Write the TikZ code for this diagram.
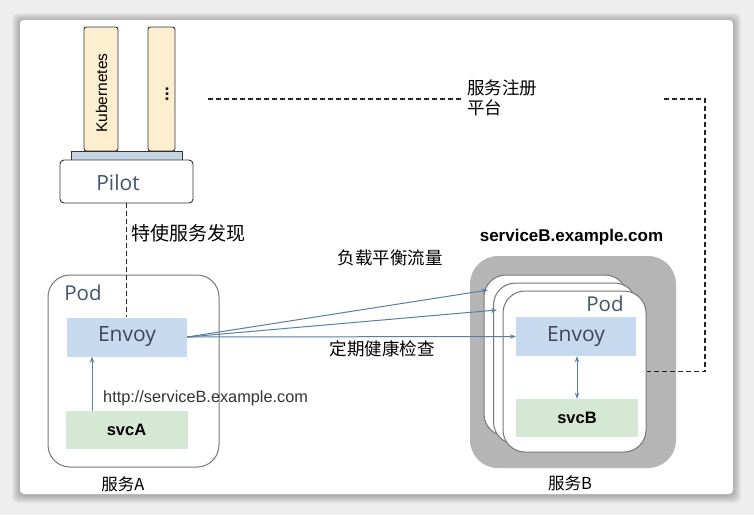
\documentclass[tikz,border=0pt]{standalone}
\usepackage{fontspec}
\setmainfont{Liberation Sans}
\newfontfamily\cjk{Noto Sans CJK SC}
\newfontfamily\osans{Open Sans}
\usetikzlibrary{arrows.meta}
\definecolor{bggray}{HTML}{EEEEEE}
\definecolor{kubefill}{HTML}{FCEECF}
\definecolor{platefill}{HTML}{C7D4E2}
\definecolor{envfill}{HTML}{C6D9EE}
\definecolor{svcfill}{HTML}{D5E8D4}
\definecolor{slate}{HTML}{44546A}
\definecolor{envtxt}{HTML}{404656}
\definecolor{arrcol}{HTML}{5A7FA6}
\definecolor{podgray}{HTML}{777777}
\definecolor{svcgray}{HTML}{B5B5B5}
\definecolor{txtgray}{HTML}{333333}
\tikzset{
  darkline/.style={draw=black!80, line width=0.9pt},
  kbar/.style={darkline, fill=kubefill, rounded corners=2.5pt, minimum height=124pt, inner sep=0pt},
  plate/.style={darkline, fill=platefill, minimum width=111pt, minimum height=9pt, inner sep=0pt},
  pilotbox/.style={darkline, fill=white, rounded corners=4pt, minimum width=133pt, minimum height=43pt, inner sep=0pt},
  podbox/.style={draw=podgray, line width=1pt, fill=white, rounded corners=22pt, minimum width=143pt, minimum height=161pt, inner sep=0pt},
  envbox/.style={fill=envfill, minimum width=120pt, minimum height=39pt, inner sep=0pt, text=envtxt, font=\osans\fontsize{21}{24}\selectfont},
  svcbox/.style={fill=svcfill, minimum width=122pt, minimum height=38pt, inner sep=0pt, font=\bfseries\fontsize{16.5}{20}\selectfont},
  podlabel/.style={text=slate, font=\osans\fontsize{20.5}{24}\selectfont, inner sep=0pt},
  cjklabel/.style={font=\cjk\fontsize{17.5}{21}\selectfont, inner sep=0pt},
  arr/.style={draw=arrcol, line width=1pt, -{Stealth[length=6pt,width=4.5pt]}},
  darr/.style={draw=arrcol, line width=1pt, {Stealth[length=6pt,width=4.5pt]}-{Stealth[length=6pt,width=4.5pt]}},
  dline/.style={draw=black!85, line width=1.1pt, dash pattern=on 5pt off 3pt},
}
\begin{document}
\begin{tikzpicture}[x=1pt,y=-1pt]
\useasboundingbox (0,0) rectangle (754,515);
% background and card
\fill[bggray] (0,0) rectangle (754,515);
\foreach \i in {1,...,8} {
  \fill[black, opacity=0.035, rounded corners=6pt] (20-\i,20-\i+1) rectangle (733+\i,494+\i+1);
}
\fill[white, rounded corners=4pt] (20,20) rectangle (733,494);

% Pilot column
\node[kbar, minimum width=34pt] (kube) at (101,89) {};
\node[rotate=90, font=\fontsize{15.5}{18}\selectfont, inner sep=0pt] (kubetxt) at (101.5,93) {Kubernetes};
\node[kbar, minimum width=27pt] (other) at (161.5,89) {};
\node[rotate=90, font=\bfseries\fontsize{17}{18}\selectfont, inner sep=0pt] (dots) at (167,94) {...};
\node[plate] (plate) at (126.5,155.5) {};
\node[pilotbox] (pilot) at (126.5,181.5) {};
\node[podlabel, font=\osans\fontsize{21}{24}\selectfont] (pilottxt) at (118,183) {Pilot};

% service A
\node[podbox, minimum width=171pt, minimum height=192pt] (podA) at (133.5,371) {};
\node[podlabel] (podAtxt) at (83,293) {Pod};
\node[envbox] (envA) at (127,337) {Envoy};
\node[svcbox] (svcA) at (126.5,430) {svcA};
\node[font=\fontsize{16.3}{19}\selectfont, text=txtgray, inner sep=0pt, anchor=west] (http) at (103,398) {http://serviceB.example.com};
\node[cjklabel, font=\cjk\fontsize{16.5}{20}\selectfont] (svcAname) at (123,484) {服务A};
\draw[arr] ([xshift=-34.5pt]svcA.north) -- ([xshift=-35pt]envA.south);

% service B
\node[font=\bfseries\fontsize{17}{20}\selectfont, inner sep=0pt] (sbname) at (571.5,237) {serviceB.example.com};
\node[fill=svcgray, rounded corners=28pt, minimum width=206pt, minimum height=212pt, inner sep=0pt] (svcBgroup) at (573,362) {};
\node[podbox] (podB1) at (555.5,355.5) {};
\node[podbox] (podB2) at (565,363.5) {};
\node[podbox] (podB3) at (574.5,371.5) {};
\node[podlabel] (podBtxt) at (605,304) {Pod};
\node[envbox] (envB) at (576,336.5) {Envoy};
\node[svcbox] (svcB) at (577,418) {svcB};
\draw[darr] ([xshift=1pt]envB.south) -- (svcB.north);
\node[cjklabel, font=\cjk\fontsize{16.5}{20}\selectfont] (svcBname) at (570,483) {服务B};

% traffic arrows
\coordinate (t1) at (488,290);
\coordinate (t2) at (497,310);
\draw[arr] (envA.east) -- (t1);
\draw[arr] (envA.east) -- (t2);
\draw[arr] (envA.east) -- (envB.west);
\node[cjklabel] (lb) at (390,258) {负载平衡流量};
\node[cjklabel] (hc) at (382,349) {定期健康检查};

% discovery
\draw[dline] (pilot.south) -- (pilot.south |- envA.north);
\node[cjklabel, font=\cjk\fontsize{19}{22}\selectfont, anchor=west] (disc) at (131,233) {特使服务发现};

% registry line
\coordinate (regstart) at (208,99);
\coordinate (regcorner1) at (705,99);
\coordinate (regcorner2) at (705,371.5);
\draw[dline] (regstart) -- (regcorner1) -- (regcorner2) -- (podB3.east);
\node[cjklabel, fill=white, anchor=west, align=left, text width=192pt, inner xsep=4pt, inner ysep=3pt, font=\cjk\fontsize{17.5}{20.5}\selectfont] (reg) at (463,98) {服务注册\\平台};
\end{tikzpicture}
\end{document}
